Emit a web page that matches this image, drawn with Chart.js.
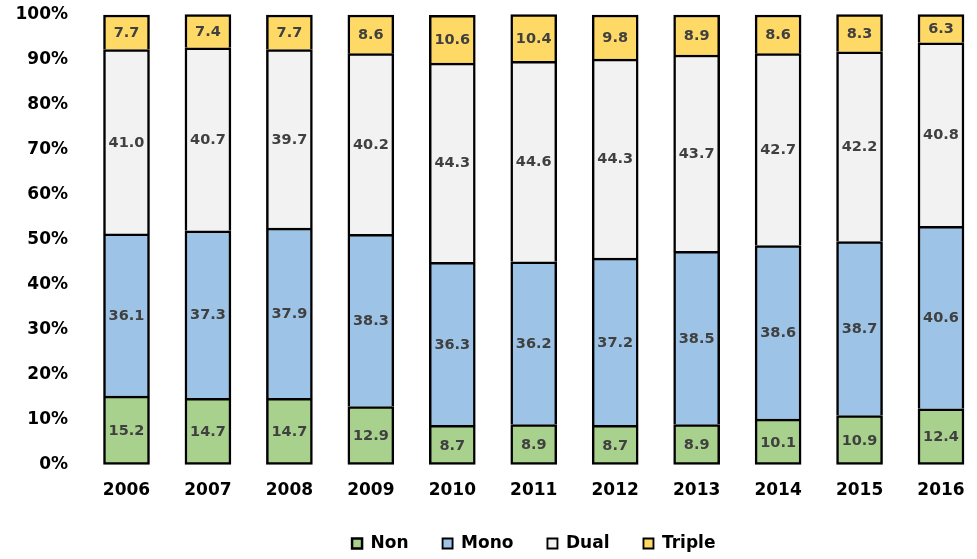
<!DOCTYPE html>
<html>
<head>
<meta charset="utf-8">
<script src="https://cdn.jsdelivr.net/npm/chart.js@4/dist/chart.umd.min.js"></script>
<style>
    html, body { margin: 0; padding: 0; background: #fff; }
    #wrap { width: 977px; height: 559px; }
</style>
</head>
<body>
<div id="wrap"><canvas id="shareChart" width="977" height="559"></canvas></div>
<script>
const YEARS = ['2006', '2007', '2008', '2009', '2010', '2011', '2012', '2013', '2014', '2015', '2016'];
const NON    = [15.2, 14.7, 14.7, 12.9, 8.7, 8.9, 8.7, 8.9, 10.1, 10.9, 12.4];
const MONO   = [36.1, 37.3, 37.9, 38.3, 36.3, 36.2, 37.2, 38.5, 38.6, 38.7, 40.6];
const DUAL   = [41.0, 40.7, 39.7, 40.2, 44.3, 44.6, 44.3, 43.7, 42.7, 42.2, 40.8];
const TRIPLE = [7.7, 7.4, 7.7, 8.6, 10.6, 10.4, 9.8, 8.9, 8.6, 8.3, 6.3];
const Y_TICKS = [0, 10, 20, 30, 40, 50, 60, 70, 80, 90, 100];

const FONT = '"DejaVu Sans", Verdana, sans-serif';
const EDGE = 2.5;

// lower segments keep their bottom edge off so shared edges aren't doubled
function segment(label, data, color, first) {
    return {
        label: label,
        data: data,
        backgroundColor: color,
        borderColor: '#000',
        borderWidth: { top: EDGE, right: EDGE, bottom: first ? EDGE : 0, left: EDGE },
        borderSkipped: false,
        barThickness: 46,
        clip: false
    };
}

// prints each segment's value in the middle of its bar
const valueLabels = {
    id: 'valueLabels',
    afterDatasetsDraw(chart) {
        const ctx = chart.ctx;
        ctx.save();
        ctx.font = 'bold 14.5px ' + FONT;
        ctx.fillStyle = '#404040';
        ctx.textAlign = 'center';
        ctx.textBaseline = 'middle';
        chart.data.datasets.forEach((ds, i) => {
            chart.getDatasetMeta(i).data.forEach((bar, j) => {
                const y = (bar.y + bar.base) / 2;
                ctx.fillText(ds.data[j].toFixed(1), bar.x, y + 1);
            });
        });
        ctx.restore();
    }
};

new Chart(document.getElementById('shareChart'), {
    type: 'bar',
    data: {
        labels: YEARS,
        datasets: [
            segment('Non', NON, '#a9d18e', true),
            segment('Mono', MONO, '#9dc3e6', false),
            segment('Dual', DUAL, '#f2f2f2', false),
            segment('Triple', TRIPLE, '#ffd966', false)
        ]
    },
    options: {
        responsive: false,
        animation: false,
        layout: { padding: { top: 15, right: 36, bottom: -3, left: 0 } },
        scales: {
            x: {
                stacked: true,
                offset: false,
                grid: { display: false, drawTicks: false },
                border: { display: false },
                afterFit(scale) {
                    scale.height = 36.5;
                    scale.paddingLeft = 0;
                    scale.paddingRight = 0;
                },
                ticks: {
                    padding: 16,
                    color: '#000',
                    font: { family: FONT, size: 17, weight: 'bold' }
                }
            },
            y: {
                stacked: true,
                min: 0,
                max: 100,
                grid: { display: false, drawTicks: false },
                border: { display: false },
                afterBuildTicks(scale) {
                    scale.ticks = Y_TICKS.map(v => ({ value: v }));
                },
                afterFit(scale) {
                    // wide gap between labels and bars, but no extra room above/below
                    scale.width = 126.5;
                    scale.paddingTop = 10;
                    scale.paddingBottom = 10;
                },
                ticks: {
                    padding: 58.5,
                    color: '#000',
                    font: { family: FONT, size: 17, weight: 'bold' },
                    callback: v => v + '%'
                }
            }
        },
        plugins: {
            tooltip: { enabled: false },
            legend: {
                position: 'bottom',
                fullSize: false,
                labels: {
                    boxWidth: 10,
                    boxHeight: 10,
                    padding: 34,
                    color: '#000',
                    font: { family: FONT, size: 17, weight: 'bold' }
                }
            }
        }
    },
    plugins: [valueLabels]
});
</script>
</body>
</html>
